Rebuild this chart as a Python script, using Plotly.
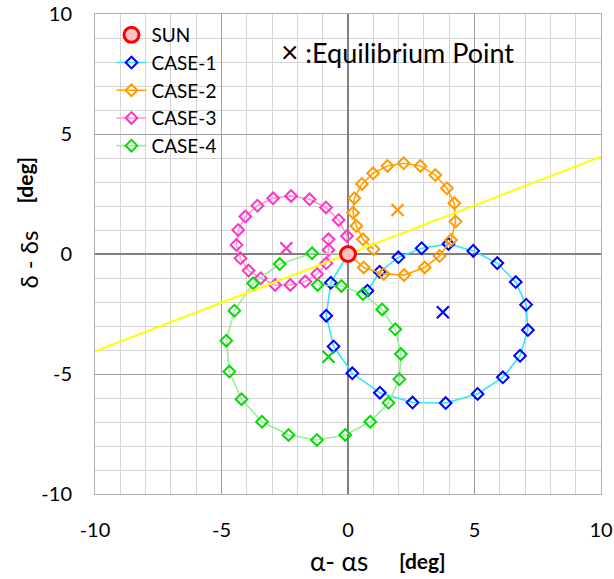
import plotly.graph_objects as go

# ---------------- data ----------------
sun_x = [0.0]
sun_y = [0.0]

case1_x = [0.0, -0.68, -0.86, -0.57, 0.17, 1.26, 2.55, 3.86, 5.12, 6.12, 6.80, 7.11, 7.04, 6.63, 5.90, 4.95, 3.97, 2.91, 1.99, 1.25, 0.77]
case1_y = [0.0, -1.20, -2.57, -3.85, -4.97, -5.78, -6.19, -6.21, -5.83, -5.14, -4.24, -3.17, -2.11, -1.17, -0.38, 0.13, 0.42, 0.24, -0.14, -0.74, -1.53]

case2_x = [0.0, 0.62, 1.41, 2.22, 3.03, 3.62, 4.07, 4.25, 4.20, 3.91, 3.45, 2.86, 2.20, 1.56, 0.99, 0.55, 0.25, 0.20, 0.33, 0.59, 1.01]
case2_y = [0.0, -0.56, -0.83, -0.88, -0.56, -0.08, 0.58, 1.35, 2.11, 2.74, 3.29, 3.67, 3.78, 3.67, 3.36, 2.92, 2.32, 1.72, 1.17, 0.61, 0.20]

case3_x = [0.0, -0.04, -0.37, -0.87, -1.52, -2.25, -2.96, -3.58, -4.06, -4.34, -4.41, -4.25, -3.93, -3.45, -2.88, -2.28, -1.69, -1.22, -0.86, -0.77, -0.77]
case3_y = [0.0, 0.75, 1.42, 1.94, 2.28, 2.42, 2.32, 2.01, 1.56, 1.00, 0.38, -0.18, -0.69, -1.01, -1.29, -1.29, -1.15, -0.83, -0.39, 0.17, 0.61]

case4_x = [0.0, -1.42, -2.70, -3.75, -4.49, -4.81, -4.69, -4.21, -3.40, -2.35, -1.23, -0.11, 0.88, 1.60, 2.03, 2.09, 1.87, 1.35, 0.59, -0.26, -1.20]
case4_y = [0.0, 0.03, -0.42, -1.22, -2.36, -3.61, -4.90, -6.05, -6.99, -7.54, -7.75, -7.54, -6.99, -6.20, -5.22, -4.17, -3.14, -2.31, -1.67, -1.33, -1.29]

# equilibrium points (CASE-1..4)
eq_x = [3.75, 1.96, -2.44, -0.77]
eq_y = [-2.43, 1.83, 0.24, -4.28]

# yellow reference line
ref_x = [-10, 10]
ref_y = [-4.05, 4.05]

axis_ticks = [-10, -5, 0, 5, 10]
tick_labels = ["-10", "-5", "0", "5", "10"]

# ---------------- styles ----------------
FONT = "Lato, Liberation Sans, Arial, sans-serif"
cases = [
    ("CASE-1", case1_x, case1_y, "#33e6ff", "#0000ff"),
    ("CASE-2", case2_x, case2_y, "#ffa500", "#ff9900"),
    ("CASE-3", case3_x, case3_y, "#ff99cc", "#ff33cc"),
    ("CASE-4", case4_x, case4_y, "#99ee99", "#00dd00"),
]

W, H = 614, 579
L, R, T, B = 94.5, 13, 14, 85
PW, PH = W - L - R, H - T - B


def px2paper(px, py):
    return (px - L) / PW, (H - B - py) / PH


fig = go.Figure()

fig.add_trace(go.Scatter(
    x=[None], y=[None], mode="markers", name="SUN",
    marker=dict(symbol="circle", size=15, color="#ffc0c0",
                line=dict(color="#ff0000", width=3)),
))

for name, xs, ys, lc, mc in cases:
    fig.add_trace(go.Scatter(
        x=xs, y=ys, mode="lines+markers", name=name,
        line=dict(color=lc, width=1.6),
        marker=dict(symbol="diamond-open", size=9, color=mc,
                    line=dict(color=mc, width=2)),
    ))

for (name, xs, ys, lc, mc), ex, ey in zip(cases, eq_x, eq_y):
    fig.add_trace(go.Scatter(
        x=[ex], y=[ey], mode="markers", showlegend=False,
        marker=dict(symbol="x-thin-open", size=12, color=mc,
                    line=dict(color=mc, width=2.2)),
    ))

fig.add_trace(go.Scatter(
    x=ref_x, y=ref_y, mode="lines", showlegend=False,
    line=dict(color="#ffff00", width=2),
))

fig.add_trace(go.Scatter(
    x=sun_x, y=sun_y, mode="markers", showlegend=False,
    marker=dict(symbol="circle", size=15, color="#ffc0c0",
                line=dict(color="#ff0000", width=3)),
))

axis_common = dict(
    range=[-10, 10], tickvals=axis_ticks, ticktext=tick_labels,
    showgrid=True, gridcolor="#a0a0a0", gridwidth=1,
    zeroline=True, zerolinecolor="#808080", zerolinewidth=1.5,
    showline=True, linecolor="#b0b0b0", linewidth=1, mirror=True,
    ticks="", tickfont=dict(family=FONT, size=20, color="#000"),
    minor=dict(dtick=1, showgrid=True, gridcolor="#d4d4d4", gridwidth=1),
    fixedrange=True,
)

fig.update_layout(
    width=W, height=H,
    margin=dict(l=L, r=R, t=T, b=B, autoexpand=False),
    paper_bgcolor="white", plot_bgcolor="white",
    xaxis=dict(**axis_common, ticklabelstandoff=18),
    yaxis=dict(**axis_common, ticklabelstandoff=18),
    showlegend=True,
    legend=dict(
        x=px2paper(111, 0)[0], y=px2paper(0, 16)[1], xanchor="left", yanchor="top",
        bgcolor="rgba(255,255,255,0)", borderwidth=0,
        font=dict(family=FONT, size=19, color="#000"),
        tracegroupgap=0, itemwidth=30,
    ),
)


def add_text(px, py, text, size, bold=False, xanchor="left", angle=0):
    x, y = px2paper(px, py)
    fig.add_annotation(
        x=x, y=y, xref="paper", yref="paper", xanchor=xanchor, yanchor="middle",
        text=f"<b>{text}</b>" if bold else text, showarrow=False, textangle=angle,
        font=dict(family=FONT, size=size, color="#000"),
    )


add_text(279, 51, "<span style='font-size:30px'>×</span>&nbsp;:Equilibrium Point", 27)
add_text(308, 561, "α- αs", 26)
add_text(397, 560, "[deg]", 21, bold=True)
add_text(27, 260, "δ - δs", 24, xanchor="center", angle=-90)
add_text(23, 180, "[deg]", 21, bold=True, xanchor="center", angle=-90)

fig.write_html("out.html")
